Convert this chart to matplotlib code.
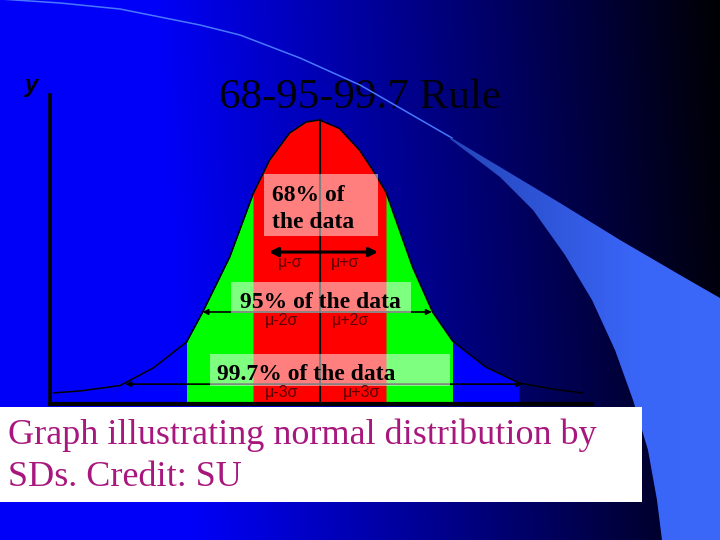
import numpy as np
import matplotlib
matplotlib.use('Agg')
import matplotlib.pyplot as plt
from matplotlib.patches import Polygon, Rectangle
from matplotlib.colors import LinearSegmentedColormap

# bell curve as drawn on the slide: x in SDs from the mean, height relative to the peak
curve_sd = [-4.0, -3.6, -3.0, -2.5, -2.0, -1.75, -1.35, -1.0, -0.75, -0.45, -0.2, 0.0,
            0.3, 0.6, 0.8, 1.0, 1.4, 1.7, 2.0, 2.5, 3.0, 3.5, 3.95]
curve_height = [0.039, 0.046, 0.065, 0.127, 0.218, 0.327, 0.518, 0.739, 0.859, 0.954, 0.993, 1.0,
                0.97, 0.894, 0.824, 0.746, 0.482, 0.324, 0.222, 0.13, 0.074, 0.053, 0.039]

# shaded bands, widest first
band_edges = [3, 2, 1]
band_colors = ['#0000FF', '#00FF00', '#FF0000']

# the three coverage arrows (68 / 95 / 99.7)
coverage_labels = ['68% of\nthe data', '95% of the data', '99.7% of the data']
coverage_height = [0.535, 0.324, 0.070]
coverage_from = [-0.76, -1.76, -2.92]
coverage_to = [0.88, 1.69, 3.05]
lower_labels = ['\u03bc-\u03c3', '\u03bc-2\u03c3', '\u03bc-3\u03c3']
upper_labels = ['\u03bc+\u03c3', '\u03bc+2\u03c3', '\u03bc+3\u03c3']

title = '68-95-99.7 Rule'
caption = 'Graph illustrating normal distribution by\nSDs. Credit: SU'

W, H = 720, 540
fig = plt.figure(figsize=(7.2, 5.4), dpi=100)

# --- slide background (pixel coords) ---
bg = fig.add_axes([0, 0, 1, 1], zorder=0)
xx, yy = np.meshgrid(np.arange(W) + 0.5, np.arange(H) + 0.5)
start = 150 + 40 * yy / H
end = 680 + 40 * yy / H
blue = np.clip(1 - 0.92 * (xx - start) / (end - start), 0.02, 1.0) * 0.98
img = np.dstack([np.zeros_like(blue), np.zeros_like(blue), blue])
bg.imshow(img, extent=[0, W, H, 0], aspect='auto', zorder=0)

bg.text(360, 108, title, ha='center', va='baseline', fontsize=31,
        family='Liberation Serif', color='#00000c', zorder=1)

# swoosh decoration
line_x = [0, 60, 120, 200, 240, 300, 360, 400, 452]
line_y = [-1, 3, 9, 25, 35, 58, 85, 108, 138]
bg.plot(line_x, line_y, color='#4878FF', lw=1.1, zorder=2)
upper = [(450, 137), (500, 167), (560, 203), (620, 240), (680, 275), (720, 298)]
lower = [(720, 540), (662, 540), (657, 500), (648, 450), (633, 400), (615, 350),
         (592, 300), (565, 255), (533, 210), (500, 177), (450, 139)]
wedge = Polygon(upper + lower, closed=True, facecolor='none', edgecolor='none')
bg.add_patch(wedge)
sw_cmap = LinearSegmentedColormap.from_list('sw', [(0, '#2444B8'), (0.7, '#3A66F8'), (1, '#3C68F8')])
sw = bg.imshow(np.linspace(0, 1, 256)[None, :], extent=[450, 720, H, 0], cmap=sw_cmap,
               aspect='auto', zorder=2)
sw.set_clip_path(wedge)

bg.text(32, 92, 'y', ha='center', va='baseline', fontsize=17, fontweight='bold',
        fontstyle='italic', family='Liberation Sans', color='black', zorder=1)
bg.set_xlim(0, W)
bg.set_ylim(H, 0)
bg.axis('off')

# --- the distribution ---
ax = fig.add_axes([50 / W, 136 / H, 542 / W, 309 / H], zorder=1)
ax.patch.set_visible(False)
x = np.array(curve_sd)
h = np.array(curve_height)
for edge, color in zip(band_edges, band_colors):
    ax.fill_between(x, 0, h, where=np.abs(x) <= edge + 1e-9, color=color, lw=0)
ax.plot(x, h, color='black', lw=1.1)
ax.plot([0, 0], [0, h.max()], color='black', lw=1.5)

for i in range(3):
    ax.annotate('', xy=(coverage_from[i], coverage_height[i]),
                xytext=(coverage_to[i], coverage_height[i]),
                arrowprops=dict(arrowstyle='<|-|>', color='black',
                                lw=2.2 if i == 0 else 1.2,
                                mutation_scale=13 if i == 0 else 8,
                                shrinkA=0, shrinkB=0))

ax.set_xlim(-4.053, 4.098)
ax.set_ylim(0, 1.088)
ax.set_xticks([])
ax.set_yticks([])
ax.spines['top'].set_visible(False)
ax.spines['right'].set_visible(False)
ax.spines['left'].set_linewidth(2.6)
ax.spines['bottom'].set_linewidth(3)

# --- labels over the chart (pixel coords) ---
top = fig.add_axes([0, 0, 1, 1], zorder=2)
top.patch.set_visible(False)

boxes = [(264, 174, 114, 62), (231, 282, 180, 31), (210, 354, 240, 32)]
for bx, by, bw, bh in boxes:
    top.add_patch(Rectangle((bx, by), bw, bh, facecolor='white', alpha=0.5, lw=0))

serif_bold = dict(family='Liberation Serif', fontweight='bold', fontsize=17, color='black')
top.text(272, 209, coverage_labels[0], ha='left', va='center', linespacing=1.32, **serif_bold)
top.text(240, 308, coverage_labels[1], ha='left', va='baseline', **serif_bold)
top.text(217, 380, coverage_labels[2], ha='left', va='baseline', **serif_bold)

lower_x = [290, 282, 282]
upper_x = [345, 350, 362]
label_y = [262, 321, 393]
for i in range(3):
    for lx, lab in ((lower_x[i], lower_labels[i]), (upper_x[i], upper_labels[i])):
        top.text(lx, label_y[i], lab, ha='center', va='center', fontsize=11.5,
                 family='Liberation Sans', color='#5a0000')

top.add_patch(Rectangle((0, 407), 642, 95, facecolor='white', lw=0))
top.text(8, 419, caption, ha='left', va='top', fontsize=26, family='Liberation Serif',
         color='#A8177D', linespacing=1.35)

top.set_xlim(0, W)
top.set_ylim(H, 0)
top.axis('off')

fig.savefig('out.png', dpi=100)
